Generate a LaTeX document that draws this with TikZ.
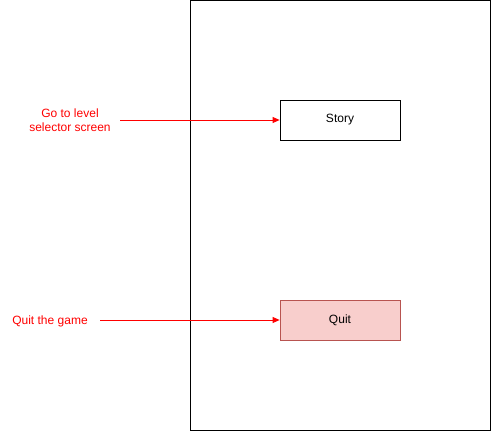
\documentclass[tikz,border=0pt]{standalone}
\usepackage{fontspec}
\setmainfont{Liberation Sans}
\usepackage{tikz}
\usetikzlibrary{positioning, arrows.meta}
\definecolor{quitfill}{HTML}{F8CECC}
\definecolor{quitline}{HTML}{B85450}
\definecolor{notered}{HTML}{FF0000}

\begin{document}
\begin{tikzpicture}[%
    x=1pt, y=-1pt,
    font=\fontsize{12}{14}\selectfont,
    align=center,
    screen/.style={draw=black, line width=0.8pt},
    button/.style={draw=black, line width=0.8pt, minimum width=120pt, minimum height=40pt, inner sep=0pt},
    quitbutton/.style={button, draw=quitline, fill=quitfill},
    note/.style={text=notered, inner sep=0pt},
    notearrow/.style={-{Triangle[length=7pt, width=6pt]}, draw=notered, line width=0.8pt}
  ]
    \useasboundingbox (0,0) rectangle (491,431);
    \node [screen, minimum width=300pt, minimum height=430pt, inner sep=0pt] (frame) at (340,215) {};

    \node [button] (story) at (340,120) {Story};
    \node [quitbutton] (quit) at (340,320) {Quit};

    \node [note] (golevel) at (70,120) {Go to level\\selector screen};
    \node [note] (quitgame) at (50,321) {Quit the game};

    \coordinate (golevelstart) at (120,120);
    \coordinate (quitgamestart) at (100,320);

    \draw [notearrow] (golevelstart) -- (story.west);
    \draw [notearrow] (quitgamestart) -- (quit.west);
  \end{tikzpicture}
\end{document}
